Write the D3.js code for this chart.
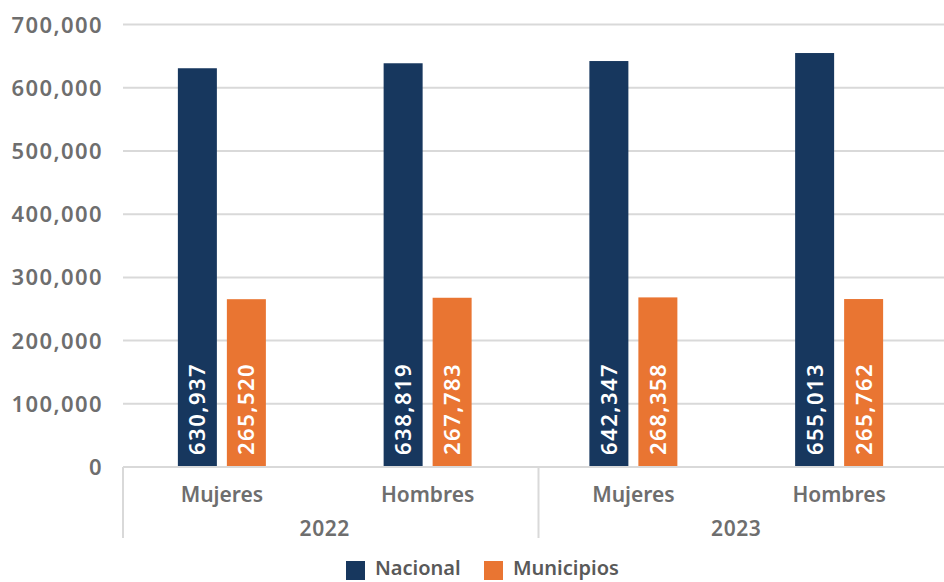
<!DOCTYPE html>
<html>
<head>
<meta charset="utf-8">
<script src="https://cdn.jsdelivr.net/npm/d3@7"></script>
<style>
  body { margin: 0; background: #fff; }
  svg { display: block; font-family: "Noto Sans", "Open Sans", sans-serif; }
</style>
</head>
<body>
<svg id="chart" width="944" height="582"></svg>
<script>
// data
const years = ['2022', '2023'];
const sexes = ['Mujeres', 'Hombres'];
const seriesNames = ['Nacional', 'Municipios'];
const nacional = [630937, 638819, 642347, 655013];
const municipios = [265520, 267783, 268358, 265762];
const yTicks = [0, 100000, 200000, 300000, 400000, 500000, 600000, 700000];

const colors = { 'Nacional': '#17375E', 'Municipios': '#E97532' };

const width = 944, height = 582;
const svg = d3.select('#chart');

// one category per year/sex pair
const cats = [];
years.forEach(y => sexes.forEach(s => cats.push({ year: y, sex: s, key: y + '-' + s })));
const rows = cats.map((c, i) => ({
  ...c,
  values: { 'Nacional': nacional[i], 'Municipios': municipios[i] }
}));

const x = d3.scaleBand()
  .domain(cats.map(c => c.key))
  .range([123, 946])
  .padding(0);

const bw = x.bandwidth();
// bars sit a little left of band centre, like the original
const xInner = d3.scaleBand()
  .domain(seriesNames)
  .range([bw / 2 - 48, bw / 2 + 40])
  .paddingInner(0.204)
  .paddingOuter(0);

const y = d3.scaleLinear()
  .domain([0, 700000])
  .range([467, 24.6]);

const fmt = d3.format(',');

// gridlines
svg.append('g')
  .selectAll('line')
  .data(yTicks)
  .join('line')
  .attr('x1', 123)
  .attr('x2', width)
  .attr('y1', d => y(d))
  .attr('y2', d => y(d))
  .attr('stroke', '#D9D9D9')
  .attr('stroke-width', 2);

// y tick labels
svg.append('g')
  .selectAll('text')
  .data(yTicks)
  .join('text')
  .attr('x', 103)
  .attr('y', d => y(d))
  .attr('dy', '0.36em')
  .attr('text-anchor', 'end')
  .attr('fill', '#6E6E6E')
  .style('font-size', '22px')
  .style('font-weight', 600)
  .style('letter-spacing', '1.4px')
  .text(d => fmt(d));

// bars
const groups = svg.append('g')
  .selectAll('g')
  .data(rows)
  .join('g')
  .attr('transform', d => `translate(${x(d.key)},0)`);

groups.selectAll('rect')
  .data(d => seriesNames.map(s => ({ series: s, value: d.values[s] })))
  .join('rect')
  .attr('x', d => xInner(d.series))
  .attr('width', xInner.bandwidth())
  .attr('y', d => y(d.value))
  .attr('height', d => y(0) - y(d.value))
  .attr('fill', d => colors[d.series]);

// value labels, rotated, at bar base
groups.selectAll('text')
  .data(d => seriesNames.map(s => ({ series: s, value: d.values[s] })))
  .join('text')
  .attr('transform', d => `translate(${xInner(d.series) + xInner.bandwidth() / 2},${y(0) - 12}) rotate(-90)`)
  .attr('dy', '0.36em')
  .attr('fill', '#fff')
  .style('font-size', '22px')
  .style('font-weight', 600)
  .style('letter-spacing', '1.5px')
  .text(d => fmt(d.value));

// x axis line and dividers
svg.append('line')
  .attr('x1', 123).attr('x2', width)
  .attr('y1', y(0)).attr('y2', y(0))
  .attr('stroke', '#D9D9D9').attr('stroke-width', 2);

const dividers = [x(cats[0].key), x(cats[2].key) + 4];
svg.append('g')
  .selectAll('line')
  .data(dividers)
  .join('line')
  .attr('x1', d => d).attr('x2', d => d)
  .attr('y1', y(0)).attr('y2', 538)
  .attr('stroke', '#D9D9D9').attr('stroke-width', 2);

// category labels
svg.append('g')
  .selectAll('text')
  .data(cats)
  .join('text')
  .attr('x', d => x(d.key) + bw / 2 - 4)
  .attr('y', 494)
  .attr('dy', '0.36em')
  .attr('text-anchor', 'middle')
  .attr('fill', '#6E6E6E')
  .style('font-size', '21px')
  .style('font-weight', 600)
  .text(d => d.sex);

// year labels
svg.append('g')
  .selectAll('text')
  .data(years)
  .join('text')
  .attr('x', (d, i) => x(cats[i * 2].key) + bw - 4)
  .attr('y', 528)
  .attr('dy', '0.36em')
  .attr('text-anchor', 'middle')
  .attr('fill', '#6E6E6E')
  .style('font-size', '21px')
  .style('font-weight', 600)
  .style('letter-spacing', '0.6px')
  .text(d => d);

// legend
const legendX = [346, 484];
const legend = svg.append('g')
  .selectAll('g')
  .data(seriesNames)
  .join('g')
  .attr('transform', (d, i) => `translate(${legendX[i]},561)`);

legend.append('rect')
  .attr('width', 19)
  .attr('height', 19)
  .attr('fill', d => colors[d]);

legend.append('text')
  .attr('x', 29)
  .attr('y', 14)
  .attr('fill', '#595959')
  .style('font-size', '20px')
  .style('font-weight', 600)
  .text(d => d);
</script>
</body>
</html>
